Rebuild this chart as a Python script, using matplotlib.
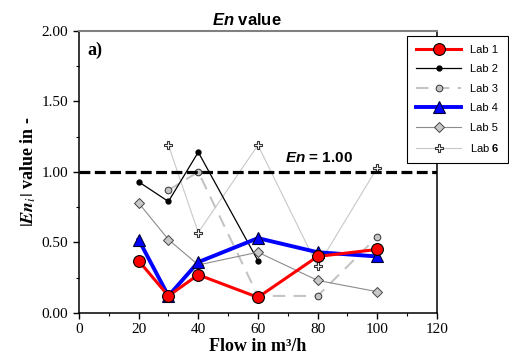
import matplotlib.pyplot as plt
from matplotlib.ticker import MultipleLocator, FormatStrFormatter

plt.rcParams['mathtext.fontset'] = 'custom'
plt.rcParams['mathtext.rm'] = 'Liberation Sans'
plt.rcParams['mathtext.bf'] = 'Liberation Sans:bold'
plt.rcParams['mathtext.it'] = 'Liberation Sans:italic'
plt.rcParams['mathtext.bfit'] = 'Liberation Sans:italic:bold'

# flow points and |En| per lab
flow = [20, 30, 40, 60, 80, 100]
lab1 = [0.37, 0.12, 0.27, 0.11, 0.40, 0.45]
lab2_x = [20, 30, 40, 60]
lab2 = [0.93, 0.79, 1.14, 0.37]
lab3_x = [30, 40, 60, 80, 100]
lab3 = [0.87, 1.00, 0.12, 0.12, 0.54]
lab4 = [0.52, 0.12, 0.36, 0.53, 0.43, 0.40]
lab5 = [0.78, 0.52, 0.34, 0.43, 0.23, 0.15]
lab6_x = [30, 40, 60, 80, 100]
lab6 = [1.19, 0.57, 1.19, 0.33, 1.03]
labels = ['Lab 1', 'Lab 2', 'Lab 3', 'Lab 4', 'Lab 5', r'Lab $\mathbf{6}$']
en_limit = 1.00

fig = plt.figure(figsize=(5.09, 3.6), dpi=100)
ax = fig.add_axes([0.155, 0.131, 0.7035, 0.783])

ax.plot(flow, lab1, color='red', lw=2.2, marker='o', ms=8.5,
        mfc='red', mec='black', mew=0.8, label=labels[0], zorder=6)
ax.plot(lab2_x, lab2, color='black', lw=0.9, marker='o', ms=3.5,
        mfc='black', mec='black', label=labels[1], zorder=3)
ax.plot(lab3_x, lab3, color='#c4c4c4', lw=1.5, ls=(0, (6, 4)), marker='o',
        ms=4.8, mfc='#c4c4c4', mec='#333333', mew=0.7, label=labels[2], zorder=2)
ax.plot(flow, lab4, color='blue', lw=2.8, marker='^', ms=8.5,
        mfc='blue', mec='#000033', mew=0.8, label=labels[3], zorder=5)
ax.plot(flow, lab5, color='#8c8c8c', lw=0.8, marker='D', ms=5.5,
        mfc='#c8c8c8', mec='#444444', mew=0.7, label=labels[4], zorder=3)
ax.plot(lab6_x, lab6, color='#c8c8c8', lw=0.8, marker='P', ms=6,
        mfc='white', mec='#333333', mew=0.8, label=labels[5], zorder=2)

ax.axhline(en_limit, color='black', lw=2.3, ls=(0, (3.4, 1.4)), zorder=4)
ax.text(92, 1.05, r'$\mathbfit{En}$ = 1.00', fontsize=11, fontweight='bold',
        family='Liberation Sans', ha='right', va='bottom')
ax.text(0.025, 0.93, 'a)', transform=ax.transAxes, fontsize=13,
        fontweight='bold', family='Liberation Serif', va='center')

ax.set_xlim(0, 120)
ax.set_ylim(0, 2)
ax.xaxis.set_major_locator(MultipleLocator(20))
ax.xaxis.set_minor_locator(MultipleLocator(10))
ax.yaxis.set_major_locator(MultipleLocator(0.5))
ax.yaxis.set_minor_locator(MultipleLocator(0.25))
ax.yaxis.set_major_formatter(FormatStrFormatter('%.2f'))
ax.tick_params(which='major', direction='out', length=4, width=1, labelsize=11)
ax.tick_params(which='minor', direction='out', length=2.5, width=0.8)
for lbl in ax.get_xticklabels() + ax.get_yticklabels():
    lbl.set_family('Liberation Serif')

ax.spines['top'].set_color('#808080')
ax.spines['top'].set_linewidth(1.5)
for s in ['left', 'bottom', 'right']:
    ax.spines[s].set_linewidth(1.1)

ax.set_xlabel('Flow in m³/h', fontsize=13, fontweight='bold',
              family='Liberation Serif', labelpad=1)
ax.set_ylabel(r'$|\mathbfit{En}_{\mathit{i}}|$ value in -', fontsize=13,
              fontweight='bold', family='Liberation Serif', math_fontfamily='stix',
              labelpad=3)
fig.text(0.485, 0.945, r'$\mathbfit{En}$ value', fontsize=12, fontweight='bold',
         family='Liberation Sans', ha='center', va='center')

leg = ax.legend(loc='upper right', bbox_to_anchor=(0.998, 0.9), bbox_transform=fig.transFigure,
                fancybox=False, framealpha=1, edgecolor='black',
                prop={'family': 'Liberation Sans', 'size': 8},
                handlelength=4, handletextpad=0.8, labelspacing=0.85,
                borderpad=0.8, borderaxespad=0)
leg.get_frame().set_linewidth(0.8)
leg.set_zorder(10)

fig.savefig('out.png', dpi=100)
